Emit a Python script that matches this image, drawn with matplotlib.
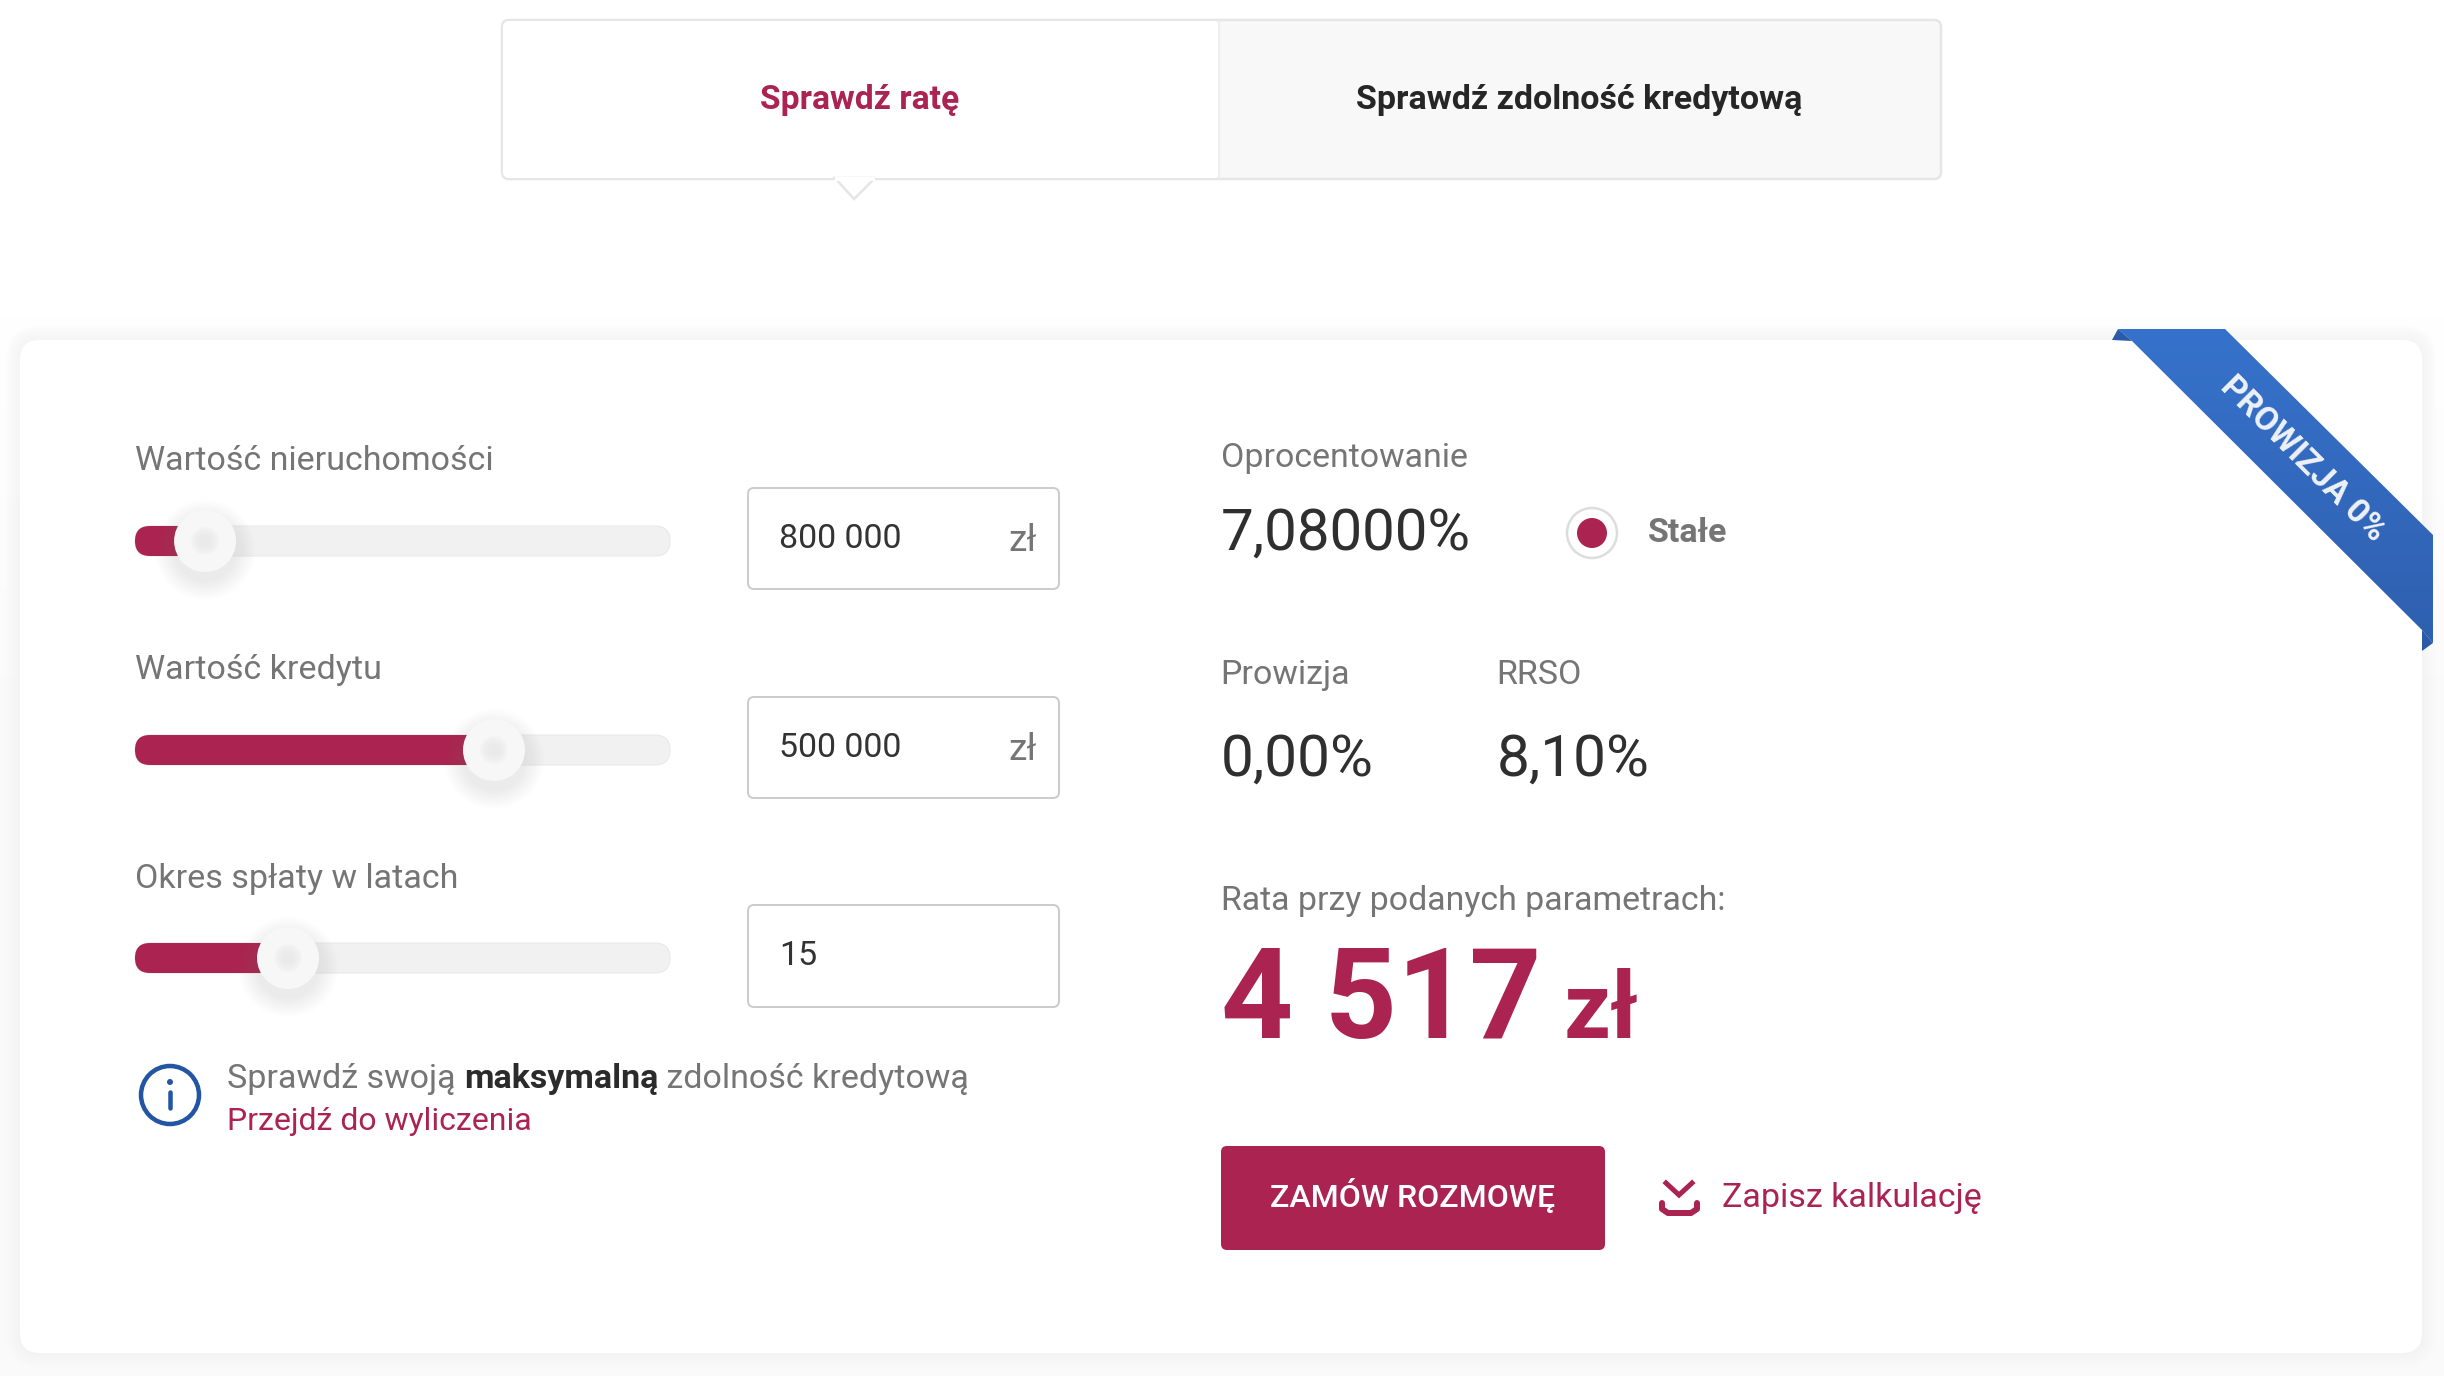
import matplotlib
matplotlib.use('Agg')
import matplotlib.pyplot as plt
import numpy as np
from matplotlib.patches import FancyBboxPatch, Circle, Polygon
from matplotlib.colors import LinearSegmentedColormap

W, H = 2444, 1376
plt.rcParams['font.family'] = ['Roboto', 'DejaVu Sans']

# --- content
tab_labels = ['Sprawdź ratę', 'Sprawdź zdolność kredytową']
slider_labels = ['Wartość nieruchomości', 'Wartość kredytu', 'Okres spłaty w latach']
slider_values = ['800 000', '500 000', '15']
slider_units = ['zł', 'zł', '']
slider_fill = [0.131, 0.671, 0.286]
rate_value = '7,08000%'
rate_type = 'Stałe'
fee_value = '0,00%'
rrso_value = '8,10%'
payment_value = '4 517'
payment_unit = 'zł'

CRIMSON = '#ab2350'
GREY = '#757575'
DARK = '#2f2f2f'
BLUE = '#2355a5'


def pt(px):
  # font sizes and line widths are thought of in image pixels
  return px * 0.72


def box(ax, x0, y0, x1, y1, r, fc='white', ec='none', lw=0, alpha=None, z=2):
  p = FancyBboxPatch((x0, y0), x1 - x0, y1 - y0, boxstyle=f'round,pad=0,rounding_size={r}',
                     fc=fc, ec=ec, lw=pt(lw), alpha=alpha, zorder=z)
  ax.add_patch(p)
  return p


def label(ax, x, y, s, size, color=GREY, weight='normal', ha='left', **kw):
  return ax.text(x, y, s, fontsize=pt(size), color=color, fontweight=weight,
                 ha=ha, va='baseline', zorder=6, **kw)


fig = plt.figure(figsize=(W / 100, H / 100), dpi=100)
ax = fig.add_axes([0, 0, 1, 1])
ax.axis('off')

# page background fades from white to very light grey
bg = np.array([[1.0], [0.98], [0.98]])
ax.imshow(bg, extent=[0, W, H, 0], cmap='gray', vmin=0, vmax=1, aspect='auto', zorder=0,
          interpolation='bilinear')
ax.set_xlim(0, W)
ax.set_ylim(H, 0)
ax.set_autoscale_on(False)

# tabs
box(ax, 502, 20, 1941, 179, 7, fc='#f8f8f8', ec='#e6e6e6', lw=2.5, z=1)
box(ax, 503, 21, 1219, 178, 6, fc='white', z=2)
ax.plot([1219, 1219], [21, 178], color='#ececec', lw=pt(1.5), zorder=2)
ax.add_patch(Polygon([(835, 178), (854, 199), (875, 178)], closed=True, fc='white',
                     ec='#e6e6e6', lw=pt(2.5), zorder=2))
ax.plot([837, 873], [179, 179], color='white', lw=pt(4), zorder=3)
label(ax, 860, 109, tab_labels[0], 33.7, CRIMSON, 'bold', ha='center')
label(ax, 1579, 109, tab_labels[1], 34, '#262626', 'bold', ha='center')

# card with its soft shadow
for grow in range(14, 0, -2):
  box(ax, 20 - grow, 340 - grow, 2422 + grow, 1353 + grow, 20 + grow, fc='#e8e8e8', alpha=0.05, z=1)
box(ax, 20, 340, 2422, 1353, 20, fc='white', z=2)

# ribbon in the corner
ribbon = Polygon([(2118, 329), (2225, 329), (2433, 535), (2433, 643), (2422, 630), (2132, 341)],
                 closed=True, transform=ax.transData, fc='none', ec='none')
ax.add_patch(ribbon)
cmap = LinearSegmentedColormap.from_list('ribbon', ['#3672cb', '#2f5fae'])
grad = ax.imshow(np.linspace(0, 1, 64).reshape(-1, 1), extent=[2100, 2440, 660, 325], cmap=cmap,
                 aspect='auto', zorder=3)
grad.set_clip_path(ribbon)
ax.set_xlim(0, W)
ax.set_ylim(H, 0)
ax.add_patch(Polygon([(2112, 340), (2132, 341), (2118, 329)], closed=True, fc='#2a5aa8', zorder=3))
ax.add_patch(Polygon([(2422, 630), (2433, 643), (2422, 651)], closed=True, fc='#2a5aa8', zorder=3))
ax.text(2303, 459, 'PROWIZJA 0%', fontsize=pt(33.5), color='#eef2fa', fontweight='bold',
        rotation=-45, rotation_mode='anchor', ha='center', va='center', zorder=6)

# sliders and their input boxes
track_x0, track_x1 = 135, 670
track_y = [541, 750, 958]
label_y = [470, 679, 888]
field_y = [(488, 589), (697, 798), (905, 1007)]
for i in range(len(slider_labels)):
  y = track_y[i]
  knob_x = track_x0 + slider_fill[i] * (track_x1 - track_x0)
  label(ax, 135, label_y[i], slider_labels[i], 34)
  box(ax, track_x0, y - 15, track_x1, y + 15, 15, fc='#f1f1f1', ec='#e8e8e8', lw=1, z=2)
  box(ax, track_x0, y - 15, knob_x, y + 15, 15, fc=CRIMSON, z=3)
  # knob shadow
  for r in range(50, 30, -2):
    ax.add_patch(Circle((knob_x, y + 9), r, fc='#909090', ec='none', alpha=0.012, zorder=4))
  ax.add_patch(Circle((knob_x, y), 31, fc='#f7f7f7', ec='none', zorder=5))
  for r in range(14, 4, -2):
    ax.add_patch(Circle((knob_x, y), r, fc='#e6e6e6', ec='none', alpha=0.18, zorder=5))

  top, bottom = field_y[i]
  box(ax, 748, top, 1059, bottom, 6, fc='white', ec='#cccccc', lw=2, z=2)
  label(ax, 779, top + 60, slider_values[i], 34, '#333333')
  if slider_units[i]:
    label(ax, 1037, top + 63, slider_units[i], 37, GREY, ha='right')

# info note
ax.add_patch(Circle((170, 1095), 29, fc='white', ec=BLUE, lw=pt(4.5), zorder=3))
ax.add_patch(Circle((170, 1082), 3, fc=BLUE, ec='none', zorder=4))
ax.plot([170, 170], [1092, 1108], color=BLUE, lw=pt(4.5), solid_capstyle='round', zorder=4)
x = 227
r = fig.canvas.get_renderer()
for part, col, wt in [('Sprawdź swoją ', GREY, 'normal'), ('maksymalną', '#2b2b2b', 'bold'),
                      (' zdolność kredytową', GREY, 'normal')]:
  t = label(ax, x, 1088, part.replace(' ', '\u00a0'), 34, col, wt)
  x = t.get_window_extent(r).x1
label(ax, 227, 1130, 'Przejdź do wyliczenia', 32, CRIMSON)

# right column
label(ax, 1221, 467, 'Oprocentowanie', 33.9)
label(ax, 1221, 550, rate_value, 58.3, DARK)
ax.add_patch(Circle((1592, 533), 25, fc='white', ec='#dddddd', lw=pt(2.5), zorder=3))
ax.add_patch(Circle((1592, 533), 15, fc=CRIMSON, ec='none', zorder=4))
label(ax, 1648, 542, rate_type, 34, GREY, 'bold')

label(ax, 1220, 684, 'Prowizja', 34)
label(ax, 1496, 684, 'RRSO', 34)
label(ax, 1221, 776, fee_value, 58.5, DARK)
label(ax, 1497, 776, rrso_value, 58.5, DARK)

label(ax, 1221, 910, 'Rata przy podanych parametrach:', 33.9)
label(ax, 1221, 1038, payment_value, 126, CRIMSON, 'bold')
label(ax, 1564, 1038, payment_unit, 92, CRIMSON, 'bold')

# button and save link
box(ax, 1221, 1146, 1605, 1250, 6, fc=CRIMSON, z=3)
label(ax, 1413, 1207, 'ZAMÓW ROZMOWĘ', 32, 'white', 'medium', ha='center')
ax.plot([1666, 1679, 1692], [1183, 1195, 1183], color=CRIMSON, lw=pt(5), zorder=5,
        solid_joinstyle='miter')
ax.plot([1662, 1662, 1668, 1691, 1697, 1697], [1203, 1209, 1213, 1213, 1209, 1203],
        color=CRIMSON, lw=pt(6), zorder=5, solid_capstyle='round')
label(ax, 1722, 1207, 'Zapisz kalkulację', 34, CRIMSON)

fig.savefig('out.png', dpi=100)
